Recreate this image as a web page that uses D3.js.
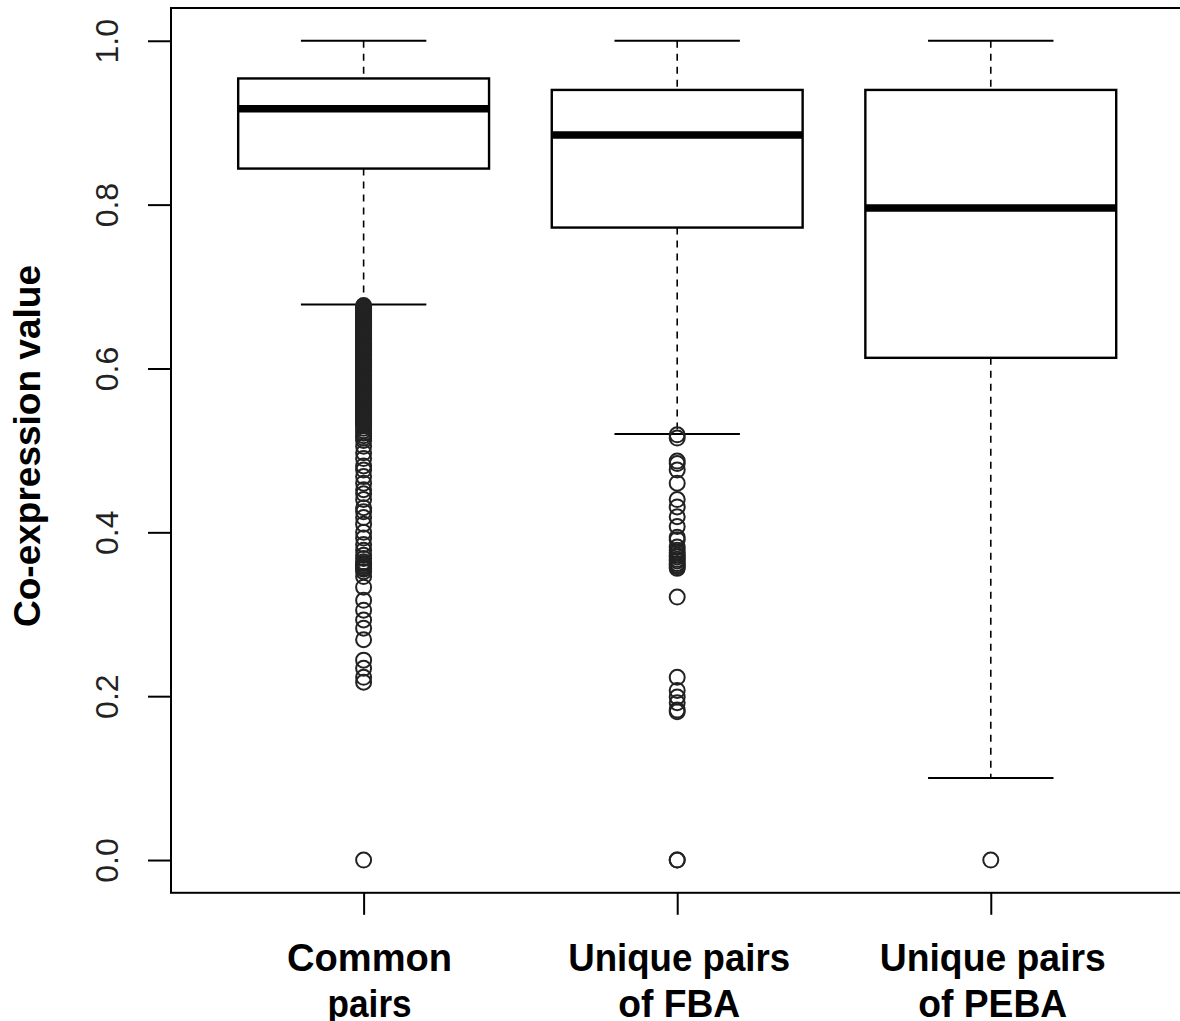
<!DOCTYPE html>
<html>
<head>
<meta charset="utf-8">
<script src="https://cdn.jsdelivr.net/npm/d3@7"></script>
<style>
  body { margin: 0; background: #fff; }
  svg { display: block; font-family: "Liberation Sans", Arial, sans-serif; }
</style>
</head>
<body>
<svg width="1180" height="1021"></svg>
<script>
// box statistics
const categories = [["Common", "pairs"], ["Unique pairs", "of FBA"], ["Unique pairs", "of PEBA"]];
const whiskerHigh = [1.0, 1.0, 1.0];
const upperQuartile = [0.954, 0.940, 0.940];
const medians = [0.917, 0.885, 0.796];
const lowerQuartile = [0.844, 0.772, 0.613];
const whiskerLow = [0.678, 0.520, 0.100];

const outliersCommon = [
  0.677, 0.6755, 0.674, 0.6725, 0.671, 0.6695, 0.668, 0.6665, 0.665, 0.6635,
  0.662, 0.6605, 0.659, 0.6575, 0.656, 0.6545, 0.653, 0.6515, 0.650, 0.6485,
  0.647, 0.6455, 0.644, 0.6425, 0.641, 0.6395, 0.638, 0.6365, 0.635, 0.6335,
  0.632, 0.6305, 0.629, 0.6275, 0.626, 0.6245, 0.623, 0.6215, 0.620, 0.6185,
  0.617, 0.6155, 0.614, 0.6125, 0.611, 0.6095, 0.608, 0.6065, 0.605, 0.6035,
  0.602, 0.6005, 0.599, 0.5975, 0.596, 0.5945, 0.593, 0.5915, 0.590, 0.5885,
  0.587, 0.5855, 0.584, 0.5825, 0.581, 0.5795, 0.578, 0.5765, 0.575, 0.5735,
  0.572, 0.5705, 0.569, 0.5675, 0.566, 0.5645, 0.563, 0.5615, 0.560, 0.5585,
  0.557, 0.5555, 0.554, 0.5525, 0.551, 0.5495, 0.548, 0.5465, 0.545, 0.5435,
  0.542, 0.5405, 0.539, 0.5375, 0.536, 0.5345, 0.533, 0.5315, 0.530, 0.527,
  0.524, 0.521, 0.518, 0.515, 0.512, 0.505, 0.497, 0.490, 0.481, 0.476,
  0.468, 0.460, 0.452, 0.447, 0.440, 0.430, 0.425, 0.418, 0.410, 0.400,
  0.393, 0.385, 0.378, 0.372, 0.368, 0.364, 0.362, 0.360, 0.358, 0.356,
  0.355, 0.352, 0.346, 0.333, 0.317, 0.305, 0.293, 0.283, 0.269, 0.244,
  0.234, 0.223, 0.217, 0.0
];
const outliersFBA = [
  0.519, 0.515, 0.487, 0.484, 0.476, 0.460, 0.440, 0.431, 0.419, 0.407,
  0.394, 0.391, 0.382, 0.378, 0.375, 0.372, 0.370, 0.367, 0.365, 0.362,
  0.360, 0.358, 0.356, 0.321, 0.223, 0.207, 0.199, 0.192, 0.183, 0.181,
  0.0, 0.0
];
const outliersPEBA = [0.0];
const outliers = [outliersCommon, outliersFBA, outliersPEBA];

const yTicks = [0, 0.2, 0.4, 0.6, 0.8, 1.0];
const yTitle = "Co-expression value";

const svg = d3.select('svg');
const plotLeft = 171, plotRight = 1187, plotTop = 8, plotBottom = 892.8;

const x = d3.scaleLinear().domain([0.38, 3.62]).range([plotLeft - 1.8, plotRight - 1.8]);
const y = d3.scaleLinear().domain([-0.04, 1.04]).range([plotBottom, plotTop]);
const boxW = 0.8 * (x(2) - x(1));

const boxes = categories.map((c, i) => ({
  pos: i + 1,
  hi: whiskerHigh[i], q3: upperQuartile[i], med: medians[i],
  q1: lowerQuartile[i], lo: whiskerLow[i], out: outliers[i]
}));

const g = svg.selectAll('g.box').data(boxes).enter().append('g').attr('class', 'box');

// dashed whiskers
g.append('line')
  .attr('x1', d => x(d.pos)).attr('x2', d => x(d.pos))
  .attr('y1', d => y(d.hi)).attr('y2', d => y(d.q3))
  .attr('stroke', '#000').attr('stroke-width', 1.6).attr('stroke-dasharray', '7,6');
g.append('line')
  .attr('x1', d => x(d.pos)).attr('x2', d => x(d.pos))
  .attr('y1', d => y(d.q1)).attr('y2', d => y(d.lo))
  .attr('stroke', '#000').attr('stroke-width', 1.6).attr('stroke-dasharray', '7,6');

// whisker caps
['hi', 'lo'].forEach(k => {
  g.append('line')
    .attr('x1', d => x(d.pos) - boxW / 4).attr('x2', d => x(d.pos) + boxW / 4)
    .attr('y1', d => y(d[k])).attr('y2', d => y(d[k]))
    .attr('stroke', '#000').attr('stroke-width', 2);
});

// boxes
g.append('rect')
  .attr('x', d => x(d.pos) - boxW / 2)
  .attr('y', d => y(d.q3))
  .attr('width', boxW)
  .attr('height', d => y(d.q1) - y(d.q3))
  .attr('fill', '#fff').attr('stroke', '#000').attr('stroke-width', 2.4);

// medians
g.append('line')
  .attr('x1', d => x(d.pos) - boxW / 2).attr('x2', d => x(d.pos) + boxW / 2)
  .attr('y1', d => y(d.med)).attr('y2', d => y(d.med))
  .attr('stroke', '#000').attr('stroke-width', 7.5);

// outliers
g.selectAll('circle')
  .data(d => d.out.map(v => ({ pos: d.pos, v })))
  .enter().append('circle')
  .attr('cx', d => x(d.pos)).attr('cy', d => y(d.v))
  .attr('r', 7.5)
  .attr('fill', 'none').attr('stroke', '#222').attr('stroke-width', 2);

// plot frame (right edge falls outside the picture)
svg.append('rect')
  .attr('x', plotLeft).attr('y', plotTop)
  .attr('width', plotRight - plotLeft).attr('height', plotBottom - plotTop)
  .attr('fill', 'none').attr('stroke', '#000').attr('stroke-width', 2);

// y axis
const yAxis = svg.append('g')
  .attr('transform', `translate(${plotLeft},0)`)
  .call(d3.axisLeft(y).tickValues(yTicks).tickFormat(d3.format('.1f')).tickSize(23).tickSizeOuter(0));
yAxis.select('.domain').remove();
yAxis.selectAll('line').attr('stroke', '#000').attr('stroke-width', 2);
yAxis.selectAll('text')
  .attr('x', null).attr('dy', null)
  .attr('transform', 'translate(-53,0) rotate(-90)')
  .attr('text-anchor', 'middle')
  .attr('fill', '#222')
  .style('font-size', '32px')
  .style('font-family', '"Liberation Sans", Arial, sans-serif');

// x axis ticks
const xAxis = svg.append('g')
  .attr('transform', `translate(0,${plotBottom})`)
  .call(d3.axisBottom(x).tickValues([1, 2, 3]).tickFormat('').tickSize(22).tickSizeOuter(0));
xAxis.select('.domain').remove();
xAxis.selectAll('line').attr('stroke', '#000').attr('stroke-width', 2);

// x labels, two lines each
const labelWidths = [[165, 84], [222, 122], [226, 149]];
categories.forEach((lines, i) => {
  lines.forEach((t, j) => {
    svg.append('text')
      .attr('x', x(i + 1) + (i === 0 ? 6 : 2))
      .attr('y', 971 + j * 46)
      .attr('text-anchor', 'middle')
      .attr('textLength', labelWidths[i][j])
      .attr('lengthAdjust', 'spacingAndGlyphs')
      .style('font-size', '39px')
      .style('font-weight', 'bold')
      .attr('fill', '#000')
      .text(t);
  });
});

// y title
svg.append('text')
  .attr('transform', 'translate(40,446) rotate(-90)')
  .attr('text-anchor', 'middle')
  .style('font-size', '37px')
  .style('font-weight', 'bold')
  .attr('fill', '#000')
  .text(yTitle);
</script>
</body>
</html>
